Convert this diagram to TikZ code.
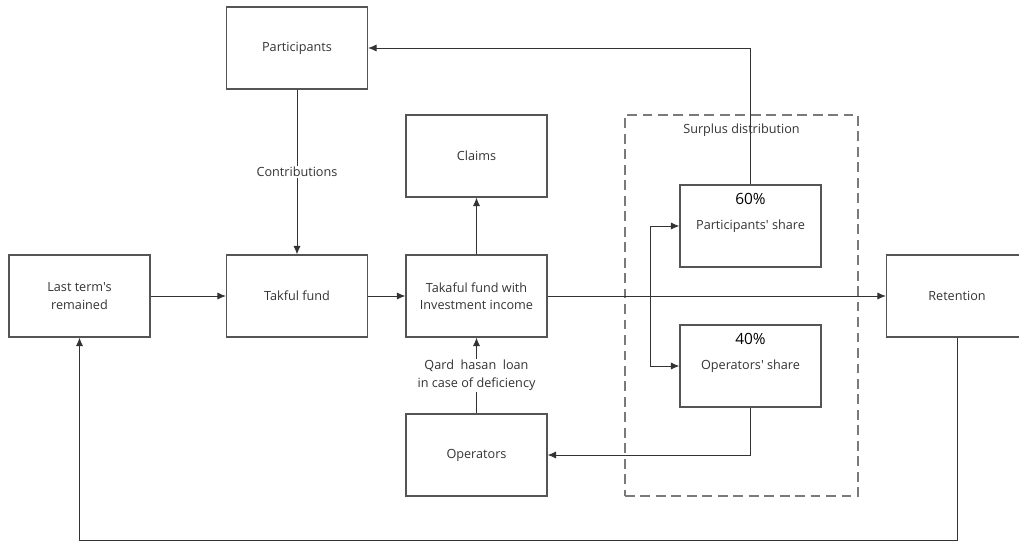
\documentclass[tikz,border=0pt]{standalone}
\usepackage{fontspec}
\setmainfont{Open Sans}[Ligatures=TeXOff]
\usetikzlibrary{arrows.meta}

\definecolor{boxline}{HTML}{555555}
\definecolor{wire}{HTML}{333333}
\definecolor{dashline}{HTML}{7A7A7A}

\tikzset{
  box/.style={draw=boxline, line width=0.8pt, minimum width=3.525cm, minimum height=2.05cm,
    align=center, inner sep=1pt, font=\fontsize{9}{12.5}\selectfont, text=black!80},
  conn/.style={draw=wire, line width=0.6pt, -{Latex[length=6pt,width=5pt]}},
  pct/.style={font=\fontsize{11}{12}\selectfont, text=black},
  lbl/.style={fill=white, align=center, inner sep=1pt, font=\fontsize{9}{13}\selectfont, text=black!80}
}

\begin{document}
\begin{tikzpicture}[x=0.025cm, y=-0.025cm]
\useasboundingbox (0,0) rectangle (1019,541);

%surplus area
\node[draw=dashline, line width=0.8pt, dash pattern=on 7pt off 4pt,
  minimum width=5.825cm, minimum height=9.525cm,
  label={[anchor=north, yshift=-3.5pt, font=\fontsize{9}{12}\selectfont, text=black!80]north:Surplus distribution}]
  (surplus) at (741.5,305.5) {};

%boxes
\node[box] (parts) at (297,48) {Participants};
\node[box] (claims) at (476.5,156) {Claims};
\node[box] (last) at (79.5,296) {Last term's\\remained};
\node[box] (tfund) at (297,296) {Takful fund};
\node[box] (tinc) at (476.5,296) {Takaful fund with\\Investment income};
\node[box] (ret) at (957,296) {Retention};
\node[box] (ops) at (476.5,455) {Operators};
\node[box, label={[pct, anchor=north, yshift=-3pt]north:60\%}] (pshare) at (750.5,226) {Participants' share};
\node[box, label={[pct, anchor=north, yshift=-3pt]north:40\%}] (oshare) at (750.5,366) {Operators' share};

\coordinate (split) at (650,296);
\coordinate (loop) at (957,540);

%connectors
\draw[conn] (parts) -- node[lbl] {Contributions} (tfund);
\draw[conn] (last) -- (tfund);
\draw[conn] (tfund) -- (tinc);
\draw[conn] (tinc) -- (claims);
\draw[conn] (tinc) -- (ret);
\draw[conn] (ops) -- node[lbl] {Qard~~hasan~~loan\\in case of deficiency} (tinc);
\draw[conn] (split) |- (pshare.west);
\draw[conn] (split) |- (oshare.west);
\draw[conn] (pshare.north) |- (parts.east);
\draw[conn] (oshare.south) |- (ops.east);
\draw[conn] (ret.south) -- (loop) -| (last.south);

\end{tikzpicture}
\end{document}
